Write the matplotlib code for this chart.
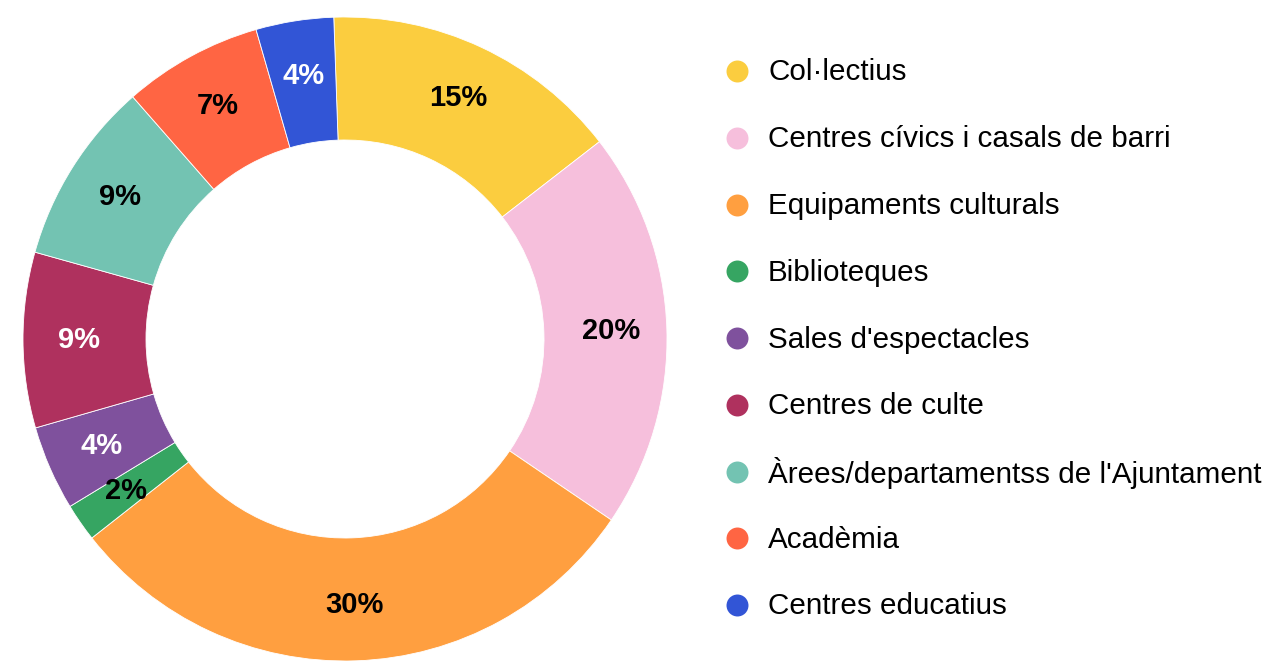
import matplotlib
matplotlib.use("Agg")
import matplotlib.pyplot as plt
import numpy as np

categories = ["Col·lectius", "Centres cívics i casals de barri", "Equipaments culturals",
              "Biblioteques", "Sales d'espectacles", "Centres de culte",
              "Àrees/departamentss de l'Ajuntament", "Acadèmia", "Centres educatius"]
values = [15.06, 20.0, 29.9, 1.9, 4.25, 8.8, 9.2, 7.0, 3.9]
colors = ["#FBCD3F", "#F6BFDC", "#FF9F40", "#36A562", "#7F519D",
          "#AF315E", "#73C3B2", "#FF6543", "#3255D6"]
label_colors = ["black", "black", "black", "black", "white",
                "white", "black", "black", "white"]

plt.rcParams['font.family'] = ['Liberation Sans', 'DejaVu Sans']

W, H = 1272, 661
fig = plt.figure(figsize=(W / 100, H / 100), dpi=100)

# donut axes
cx, cy, R = 345, 339, 322
ax = fig.add_axes([(cx - R) / W, (H - cy - R) / H, 2 * R / W, 2 * R / H])
width = 1 - 199 / 322
total = sum(values)
wedges, _ = ax.pie(values, colors=colors, startangle=92, counterclock=False,
                   radius=1, wedgeprops=dict(width=width, edgecolor='white', linewidth=0.6))
ang = 92.0
rlab = 266 / 322
for v, c in zip(values, label_colors):
    span = v / total * 360
    mid = np.deg2rad(ang - span / 2)
    ax.text(rlab * np.cos(mid), rlab * np.sin(mid), f"{round(v / total * 100)}%",
            ha='center', va='center', fontsize=21, fontweight='bold', color=c)
    ang -= span
ax.set_xlim(-1, 1)
ax.set_ylim(-1, 1)
ax.set_aspect('equal')
ax.axis('off')

# legend overlay
lax = fig.add_axes([0, 0, 1, 1])
lax.set_xlim(0, W)
lax.set_ylim(H, 0)
lax.axis('off')
y0, dy = 71, 66.75
for i, (name, col) in enumerate(zip(categories, colors)):
    y = y0 + i * dy
    lax.scatter([737], [y], s=250, color=col, marker='o', linewidths=0)
    lax.text(768, y + 1.5, name, ha='left', va='center', fontsize=21.3, color='black')

fig.savefig("out.png", dpi=100)
